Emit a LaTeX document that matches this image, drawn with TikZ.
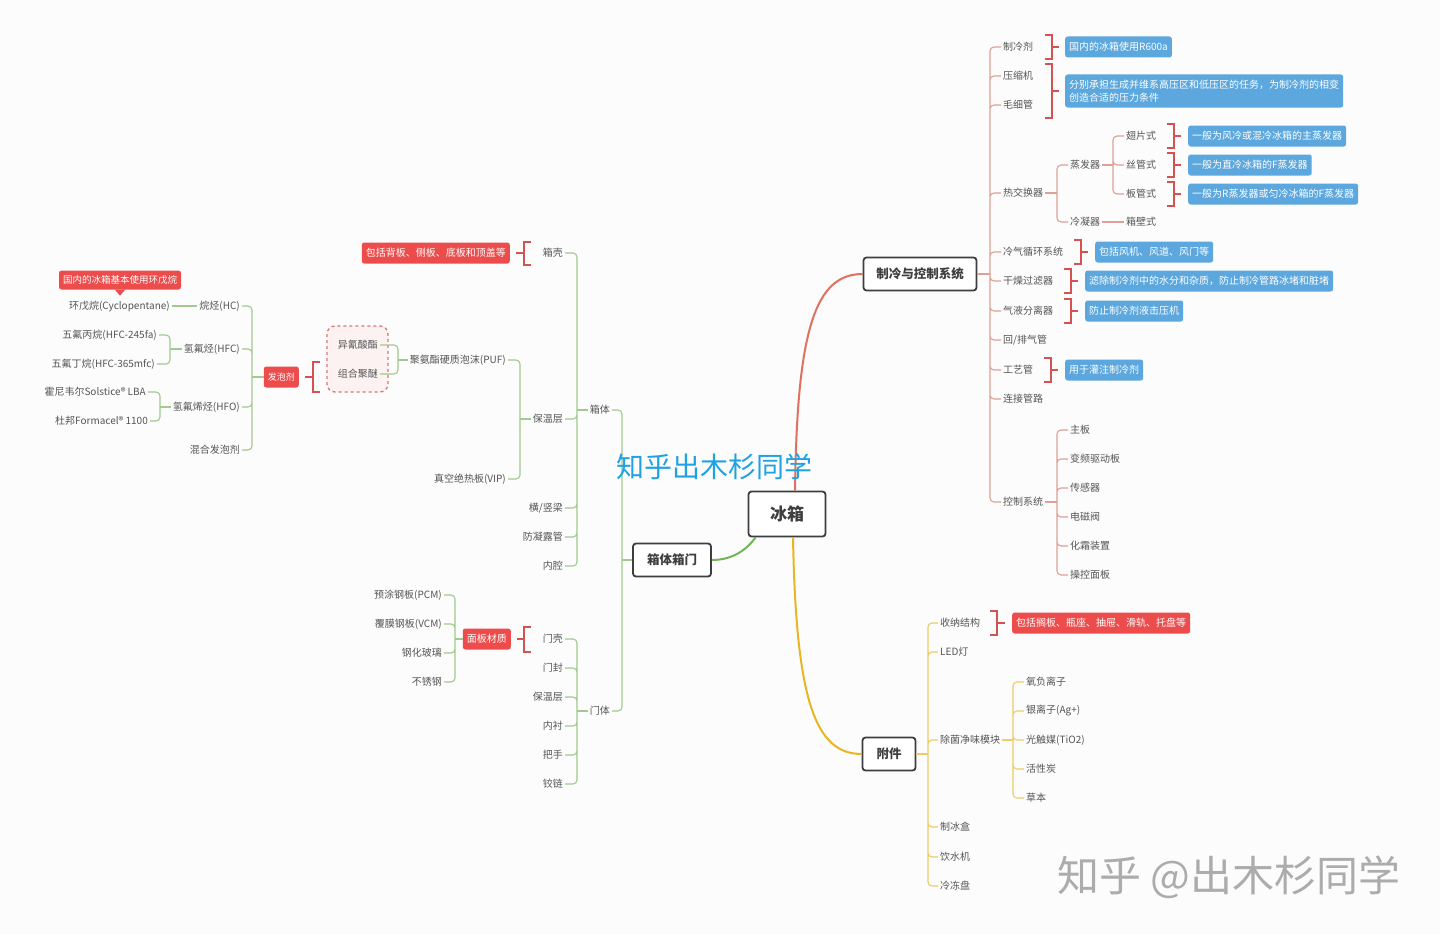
\documentclass[tikz,border=0pt]{standalone}
\usepackage{fontspec}
\setmainfont{Noto Sans CJK SC}
\definecolor{txtgray}{RGB}{85,85,85}
\definecolor{boxdark}{RGB}{62,62,62}
\definecolor{mainred}{RGB}{224,112,96}
\definecolor{thinred}{RGB}{222,160,152}
\definecolor{maingreen}{RGB}{112,182,88}
\definecolor{thingreen}{RGB}{160,202,142}
\definecolor{mainyellow}{RGB}{232,182,36}
\definecolor{thinyellow}{RGB}{236,204,100}
\definecolor{bracered}{RGB}{212,82,82}
\definecolor{noteblue}{RGB}{91,167,222}
\definecolor{notered}{RGB}{236,76,76}
\definecolor{dashpink}{RGB}{253,242,242}
\definecolor{wmblue}{RGB}{30,162,226}
\definecolor{wmgray}{RGB}{172,172,172}
\definecolor{bgpaper}{RGB}{252,252,252}

\begin{document}
\begin{tikzpicture}[
  x=1pt, y=-1pt,
  lbl/.style={text=txtgray, font=\fontsize{10}{12}\selectfont, inner sep=2pt},
  rlbl/.style={lbl, anchor=west},
  llbl/.style={lbl, anchor=east},
  topic/.style={draw=boxdark, line width=1.8pt, fill=white, rounded corners=3pt, text=boxdark, font=\fontsize{12.5}{14}\selectfont\bfseries},
  note/.style={text=white, rounded corners=2.5pt, font=\fontsize{10}{13}\selectfont, inner xsep=4pt, inner ysep=2pt, minimum height=21pt},
  bluenote/.style={note, fill=noteblue, anchor=west},
  rednote/.style={note, fill=notered},
  rmain/.style={draw=mainred, line width=2pt},
  gmain/.style={draw=maingreen, line width=2pt},
  ymain/.style={draw=mainyellow, line width=2pt},
  rline/.style={draw=thinred, line width=1.1pt, rounded corners=4pt},
  gline/.style={draw=thingreen, line width=1.1pt, rounded corners=4pt},
  yline/.style={draw=thinyellow, line width=1.1pt, rounded corners=4pt},
  brk/.style={draw=bracered, line width=1.6pt}
]
\fill[bgpaper] (0,0) rectangle (1440,934);
\useasboundingbox (0,0) rectangle (1440,934);

% boundary round the two PUF parts
\draw[bracered!80, line width=1.3pt, dashed, fill=dashpink, rounded corners=8pt] (327,326) rectangle (388,392);

% centre and main topics
\node[topic, font=\fontsize{17}{20}\selectfont\bfseries, minimum width=77pt, minimum height=45pt] (root) at (787,514) {冰箱};
\node[topic, minimum width=113pt, minimum height=33pt] (cold) at (920,274) {制冷与控制系统};
\node[topic, minimum width=78pt, minimum height=33pt] (door) at (672,560) {箱体箱门};
\node[topic, minimum width=53pt, minimum height=33pt] (att) at (889,754) {附件};

\draw[rmain] ([xshift=8pt]root.north) .. controls (797,330) and (815,274) .. (cold.west);
\draw[ymain] ([xshift=6pt]root.south) .. controls (796,700) and (815,754) .. (att.west);
\draw[gmain] ([xshift=8pt]root.south west) .. controls (745,552) and (730,560) .. (door.east);

% refrigeration and control
\coordinate (jR) at (990,274);
\node[rlbl] (rf) at (1001,47) {制冷剂};
\node[rlbl] (ysj) at (1001,76) {压缩机};
\node[rlbl] (mxg) at (1001,105) {毛细管};
\node[rlbl] (rjhq) at (1001,193) {热交换器};
\node[rlbl] (lqxh) at (1001,252) {冷气循环系统};
\node[rlbl] (gzgl) at (1001,281) {干燥过滤器};
\node[rlbl] (qyfl) at (1001,311) {气液分离器};
\node[rlbl] (hpq) at (1001,340) {回/排气管};
\node[rlbl] (gyg) at (1001,370) {工艺管};
\node[rlbl] (ljgl) at (1001,399) {连接管路};
\node[rlbl] (kzxt) at (1001,502) {控制系统};
\draw[rline] (cold.east) -- (jR);
\draw[rline] (jR) |- (rf.west) (jR) |- (ysj.west) (jR) |- (mxg.west) (jR) |- (rjhq.west)
  (jR) |- (lqxh.west) (jR) |- (gzgl.west) (jR) |- (qyfl.west) (jR) |- (hpq.west)
  (jR) |- (gyg.west) (jR) |- (ljgl.west) (jR) |- (kzxt.west);

\coordinate (jHX) at (1057,193);
\node[rlbl] (zfq) at (1068,165) {蒸发器};
\node[rlbl] (lnq) at (1068,222) {冷凝器};
\draw[rline] (rjhq.east) -- (jHX);
\draw[rline] (jHX) |- (zfq.west) (jHX) |- (lnq.west);
\coordinate (jEV) at (1113,165);
\node[rlbl] (cps) at (1124,136) {翅片式};
\node[rlbl] (sgs) at (1124,165) {丝管式};
\node[rlbl] (bgs) at (1124,194) {板管式};
\node[rlbl] (bbs) at (1124,222) {箱壁式};
\draw[rline] (zfq.east) -- (jEV);
\draw[rline] (jEV) |- (cps.west) (jEV) |- (sgs.west) (jEV) |- (bgs.west);
\draw[rline] (lnq.east) -- (bbs.west);

\coordinate (jCS) at (1057,502);
\node[rlbl] (zb) at (1068,430) {主板};
\node[rlbl] (bpqd) at (1068,459) {变频驱动板};
\node[rlbl] (cgq) at (1068,488) {传感器};
\node[rlbl] (dcf) at (1068,517) {电磁阀};
\node[rlbl] (hszz) at (1068,546) {化霜装置};
\node[rlbl] (ckmb) at (1068,575) {操控面板};
\draw[rline] (kzxt.east) -- (jCS);
\draw[rline] (jCS) |- (zb.west) (jCS) |- (bpqd.west) (jCS) |- (cgq.west)
  (jCS) |- (dcf.west) (jCS) |- (hszz.west) (jCS) |- (ckmb.west);

% notes on the right
\node[bluenote] (n1) at (1065,47) {国内的冰箱使用R600a};
\node[bluenote, align=left, minimum height=33pt] (n2) at (1065,91) {分别承担生成并维系高压区和低压区的任务，为制冷剂的相变\\创造合适的压力条件};
\node[bluenote] (n3) at (1188,136) {一般为风冷或混冷冰箱的主蒸发器};
\node[bluenote] (n4) at (1188,165) {一般为直冷冰箱的F蒸发器};
\node[bluenote] (n5) at (1188,194) {一般为R蒸发器或匀冷冰箱的F蒸发器};
\node[bluenote] (n6) at (1095,252) {包括风机、风道、风门等};
\node[bluenote] (n7) at (1085,281) {滤除制冷剂中的水分和杂质，防止制冷管路冰堵和脏堵};
\node[bluenote] (n8) at (1085,311) {防止制冷剂液击压机};
\node[bluenote] (n9) at (1065,370) {用于灌注制冷剂};
\draw[brk] (1045,35) -| (1052,59) -- (1045,59) (1052,47) -- ([xshift=-6pt]n1.west);
\draw[brk] (1045,64) -| (1052,118) -- (1045,118) (1052,91) -- ([xshift=-6pt]n2.west);
\draw[brk] (1167,124) -| (1174,148) -- (1167,148) (1174,136) -- ([xshift=-7pt]n3.west);
\draw[brk] (1167,153) -| (1174,177) -- (1167,177) (1174,165) -- ([xshift=-7pt]n4.west);
\draw[brk] (1167,182) -| (1174,206) -- (1167,206) (1174,194) -- ([xshift=-7pt]n5.west);
\draw[brk] (1074,240) -| (1081,264) -- (1074,264) (1081,252) -- ([xshift=-7pt]n6.west);
\draw[brk] (1064,269) -| (1071,293) -- (1064,293) (1071,281) -- ([xshift=-7pt]n7.west);
\draw[brk] (1064,299) -| (1071,323) -- (1064,323) (1071,311) -- ([xshift=-7pt]n8.west);
\draw[brk] (1044,358) -| (1051,382) -- (1044,382) (1051,370) -- ([xshift=-7pt]n9.west);

% accessories
\coordinate (jA) at (928,754);
\node[rlbl] (snjg) at (938,623) {收纳结构};
\node[rlbl] (led) at (938,652) {LED灯};
\node[rlbl] (cjjw) at (938,740) {除菌净味模块};
\node[rlbl] (zbh) at (938,827) {制冰盒};
\node[rlbl] (ysj2) at (938,857) {饮水机};
\node[rlbl] (ldp) at (938,886) {冷冻盘};
\draw[yline] (att.east) -- (jA);
\draw[yline] (jA) |- (snjg.west) (jA) |- (led.west) (jA) |- (cjjw.west)
  (jA) |- (zbh.west) (jA) |- (ysj2.west) (jA) |- (ldp.west);
\coordinate (jD) at (1013,740);
\node[rlbl] (yfl) at (1024,682) {氧负离子};
\node[rlbl] (ylz) at (1024,711) {银离子(Ag+)};
\node[rlbl] (gcm) at (1024,740) {光触媒(TiO2)};
\node[rlbl] (hxt) at (1024,769) {活性炭};
\node[rlbl] (cb) at (1024,798) {草本};
\draw[yline] (cjjw.east) -- (jD);
\draw[yline] (jD) |- (yfl.west) (jD) |- (ylz.west) (jD) |- (gcm.west) (jD) |- (hxt.west) (jD) |- (cb.west);
\node[rednote, anchor=west] (sn) at (1012,623) {包括搁板、瓶座、抽屉、滑轨、托盘等};
\draw[brk] (990,611) -| (997,635) -- (990,635) (997,623) -- ([xshift=-7pt]sn.west);

% cabinet and door
\coordinate (jG) at (622,560);
\node[llbl] (xt) at (612,410) {箱体};
\node[llbl] (mt) at (612,711) {门体};
\draw[gline] (door.west) -- (jG);
\draw[gline] (jG) |- (xt.east) (jG) |- (mt.east);

\coordinate (jXT) at (577,410);
\node[llbl] (xk) at (565,253) {箱壳};
\node[llbl] (bwc) at (565,419) {保温层};
\node[llbl] (hsl) at (565,508) {横/竖梁};
\node[llbl] (fnlg) at (565,537) {防凝露管};
\node[llbl] (nq) at (565,566) {内腔};
\draw[gline] (xt.west) -- (jXT);
\draw[gline] (jXT) |- (xk.east) (jXT) |- (bwc.east) (jXT) |- (hsl.east) (jXT) |- (fnlg.east) (jXT) |- (nq.east);
\node[rednote, anchor=east] (xkn) at (510,253) {包括背板、侧板、底板和顶盖等};
\draw[brk] (531,242) -| (524,265) -- (531,265) (524,253) -- ([xshift=6pt]xkn.east);

\coordinate (jBW) at (520,419);
\node[llbl] (puf) at (508,360) {聚氨酯硬质泡沫(PUF)};
\node[llbl] (vip) at (508,479) {真空绝热板(VIP)};
\draw[gline] (bwc.west) -- (jBW);
\draw[gline] (jBW) |- (puf.east) (jBW) |- (vip.east);
\coordinate (jPU) at (398,360);
\node[llbl] (yqsz) at (380,345) {异氰酸酯};
\node[llbl] (zhjm) at (380,374) {组合聚醚};
\draw[gline] (puf.west) -- (jPU);
\draw[gline] (jPU) |- (yqsz.east) (jPU) |- (zhjm.east);

\node[rednote, anchor=east, font=\fontsize{9}{11}\selectfont] (fpj) at (299,377) {发泡剂};
\draw[brk] (320,362) -| (313,392) -- (320,392) (313,377) -- ([xshift=6pt]fpj.east);
\coordinate (jFP) at (252,377);
\node[llbl] (wt) at (242,306) {烷烃(HC)};
\node[llbl] (hft) at (242,349) {氢氟烃(HFC)};
\node[llbl] (hfxt) at (242,407) {氢氟烯烃(HFO)};
\node[llbl] (hhfp) at (242,450) {混合发泡剂};
\draw[gline] (fpj.west) -- (jFP);
\draw[gline] (jFP) |- (wt.east) (jFP) |- (hft.east) (jFP) |- (hfxt.east) (jFP) |- (hhfp.east);
\node[llbl] (hwy) at (172,306) {环戊烷(Cyclopentane)};
\draw[gline] (wt.west) -- (hwy.east);
\node[rednote, font=\fontsize{9.5}{11}\selectfont, minimum height=19pt] (hwyn) at (120,280) {国内的冰箱基本使用环戊烷};
\fill[notered] ([xshift=-5pt]hwyn.south) -- ([xshift=5pt]hwyn.south) -- ([yshift=-6pt]hwyn.south) -- cycle;
\coordinate (jHFC) at (170,349);
\node[llbl] (wfbw) at (159,335) {五氟丙烷(HFC-245fa)};
\node[llbl] (wfdw) at (157,364) {五氟丁烷(HFC-365mfc)};
\draw[gline] (hft.west) -- (jHFC);
\draw[gline] (jHFC) |- (wfbw.east) (jHFC) |- (wfdw.east);
\coordinate (jHFO) at (160,407);
\node[llbl] (hnwe) at (148,392) {霍尼韦尔Solstice® LBA};
\node[llbl] (dbf) at (150,421) {杜邦Formacel® 1100};
\draw[gline] (hfxt.west) -- (jHFO);
\draw[gline] (jHFO) |- (hnwe.east) (jHFO) |- (dbf.east);

\coordinate (jMT) at (577,711);
\node[llbl] (mk) at (565,639) {门壳};
\node[llbl] (mf) at (565,668) {门封};
\node[llbl] (mbw) at (565,697) {保温层};
\node[llbl] (nc) at (565,726) {内衬};
\node[llbl] (bs) at (565,755) {把手};
\node[llbl] (jl) at (565,784) {铰链};
\draw[gline] (mt.west) -- (jMT);
\draw[gline] (jMT) |- (mk.east) (jMT) |- (mf.east) (jMT) |- (mbw.east) (jMT) |- (nc.east) (jMT) |- (bs.east) (jMT) |- (jl.east);
\node[rednote, anchor=east] (mbcz) at (511,639) {面板材质};
\draw[brk] (531,627) -| (524,652) -- (531,652) (524,639) -- ([xshift=6pt]mbcz.east);
\coordinate (jMB) at (455,639);
\node[llbl] (pcm) at (444,595) {预涂钢板(PCM)};
\node[llbl] (vcm) at (444,624) {覆膜钢板(VCM)};
\node[llbl] (ghbl) at (444,653) {钢化玻璃};
\node[llbl] (bxg) at (444,682) {不锈钢};
\draw[gline] (mbcz.west) -- (jMB);
\draw[gline] (jMB) |- (pcm.east) (jMB) |- (vcm.east) (jMB) |- (ghbl.east) (jMB) |- (bxg.east);

% watermarks
\node[text=wmblue, font=\fontsize{28}{30}\selectfont] (wm1) at (714,467) {知乎出木杉同学};
\node[text=wmgray, font=\fontsize{42}{46}\selectfont] (wm2) at (1229,877) {知乎 @出木杉同学};
\end{tikzpicture}
\end{document}
